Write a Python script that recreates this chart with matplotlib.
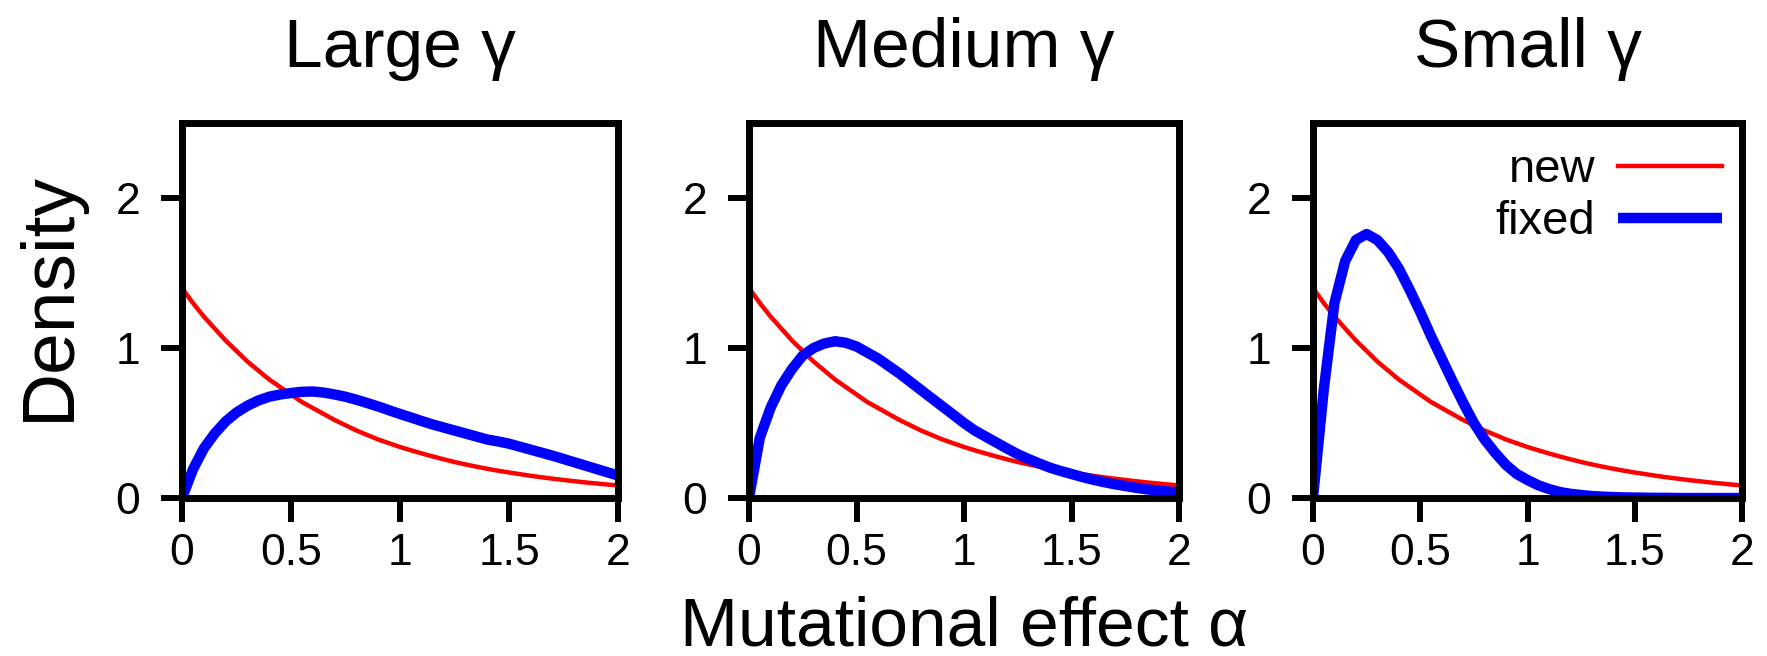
import matplotlib
matplotlib.use('Agg')
import matplotlib.pyplot as plt

Params = {'font.family': ['Liberation Sans', 'DejaVu Sans'],
          'axes.linewidth': 5,
          'xtick.direction': 'out',
          'ytick.direction': 'out',
          'xtick.major.size': 17,
          'ytick.major.size': 15,
          'xtick.major.width': 4.3,
          'ytick.major.width': 4.3,
          'xtick.major.pad': 8,
          'ytick.major.pad': 15,
          'xtick.labelsize': 32,
          'ytick.labelsize': 32}
plt.rcParams.update(Params)

# data
alpha = [0.00, 0.05, 0.10, 0.15, 0.20, 0.25, 0.30, 0.35, 0.40, 0.45,
         0.50, 0.55, 0.60, 0.65, 0.70, 0.75, 0.80, 0.85, 0.90, 0.95,
         1.00, 1.05, 1.10, 1.15, 1.20, 1.25, 1.30, 1.35, 1.40, 1.45,
         1.50, 1.55, 1.60, 1.65, 1.70, 1.75, 1.80, 1.85, 1.90, 1.95, 2.00]

new = [1.40, 1.30, 1.21, 1.13, 1.05, 0.98, 0.91, 0.85, 0.79, 0.74,
       0.69, 0.64, 0.60, 0.56, 0.52, 0.485, 0.45, 0.42, 0.39, 0.365,
       0.34, 0.318, 0.297, 0.277, 0.258, 0.24, 0.224, 0.209, 0.195, 0.182,
       0.17, 0.159, 0.148, 0.138, 0.129, 0.12, 0.112, 0.104, 0.097, 0.09, 0.084]

fixed_large = [0.00, 0.19, 0.33, 0.43, 0.51, 0.57, 0.615, 0.65, 0.675, 0.69,
               0.70, 0.708, 0.71, 0.703, 0.69, 0.675, 0.655, 0.633, 0.61, 0.585,
               0.56, 0.537, 0.513, 0.49, 0.47, 0.45, 0.43, 0.41, 0.39, 0.377,
               0.362, 0.342, 0.322, 0.302, 0.282, 0.26, 0.238, 0.216, 0.194, 0.172, 0.15]

fixed_medium = [0.00, 0.40, 0.60, 0.75, 0.86, 0.95, 1.00, 1.03, 1.045, 1.035,
                1.01, 0.97, 0.93, 0.88, 0.83, 0.775, 0.72, 0.665, 0.61, 0.555,
                0.50, 0.45, 0.41, 0.37, 0.33, 0.292, 0.26, 0.23, 0.202, 0.18,
                0.16, 0.14, 0.122, 0.106, 0.092, 0.08, 0.068, 0.058, 0.05, 0.043, 0.037]

fixed_small = [0.00, 0.72, 1.30, 1.58, 1.72, 1.76, 1.72, 1.64, 1.53, 1.39,
               1.24, 1.08, 0.93, 0.78, 0.635, 0.50, 0.39, 0.30, 0.22, 0.16,
               0.12, 0.085, 0.06, 0.04, 0.028, 0.02, 0.013, 0.009, 0.006, 0.004,
               0.003, 0.002, 0.001, 0.001, 0.0, 0.0, 0.0, 0.0, 0.0, 0.0, 0.0]

titles = ['Large γ', 'Medium γ', 'Small γ']
fixed_all = [fixed_large, fixed_medium, fixed_small]
xticks = [0, 0.5, 1, 1.5, 2]
xticklabels = ['0', '0.5', '1', '1.5', '2']
yticks = [0, 1, 2]
yticklabels = ['0', '1', '2']

fig = plt.figure(figsize=(17.67, 6.56), dpi=100)
W, H = 1767.0, 656.0
boxes = [(182, 618), (749, 1179), (1313, 1742)]
top, bottom = 123, 498

for i, (x0, x1) in enumerate(boxes):
    ax = fig.add_axes([x0 / W, 1 - bottom / H, (x1 - x0) / W, (bottom - top) / H])
    ax.plot(alpha, new, color='#ff0000', lw=3.2, label='new',
            solid_joinstyle='round')
    ax.plot(alpha, fixed_all[i], color='#0000ff', lw=7.5, label='fixed',
            solid_capstyle='butt', solid_joinstyle='round')
    ax.set_xlim(0, 2)
    ax.set_ylim(0, 2.5)
    ax.set_xticks(xticks)
    ax.set_xticklabels(xticklabels)
    ax.set_yticks(yticks)
    ax.set_yticklabels(yticklabels)
    ax.set_title(titles[i], fontsize=50, pad=40)
    if i == 2:
        leg = ax.legend(loc='upper right', frameon=False, markerfirst=False,
                        fontsize=34, handlelength=2.2, handletextpad=0.49,
                        borderaxespad=0, borderpad=0.42, labelspacing=0.17,
                        bbox_to_anchor=(1.0, 0.985))

fig.text(49 / W, 1 - 296 / H, 'Density', rotation=90, fontsize=54,
         ha='center', va='center')
fig.text(964 / W, 1 - 645 / H, 'Mutational effect α', fontsize=50,
         ha='center', va='baseline')

plt.savefig('out.png', dpi=100)
